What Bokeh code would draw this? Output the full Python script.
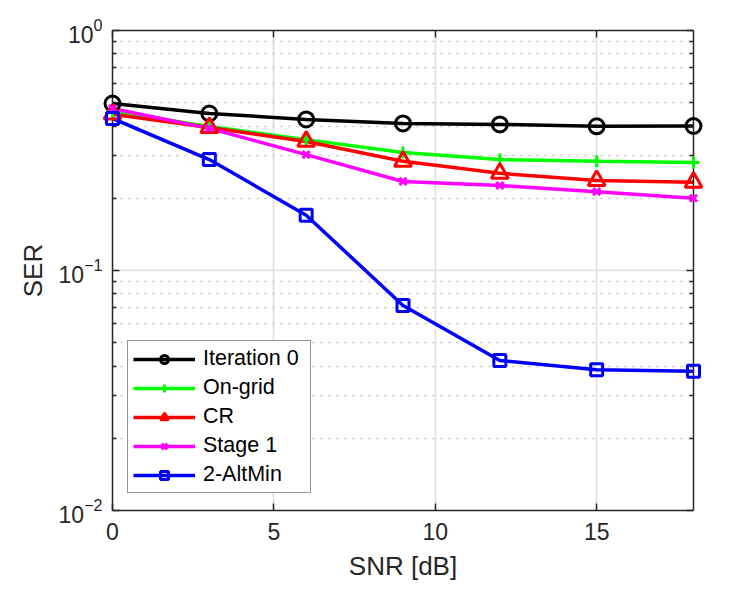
from bokeh.plotting import figure
from bokeh.models import FixedTicker, LinearAxis, LogAxis, Legend, LegendItem, LogTickFormatter
from bokeh.embed import file_html
from bokeh.resources import INLINE

# ---- data ----
snr = [0, 3, 6, 9, 12, 15, 18]
iter0 = [0.496, 0.451, 0.426, 0.410, 0.406, 0.399, 0.400]
ongrid = [0.460, 0.398, 0.351, 0.310, 0.290, 0.285, 0.282]
cr = [0.448, 0.394, 0.345, 0.285, 0.254, 0.237, 0.233]
stage1 = [0.473, 0.391, 0.304, 0.235, 0.226, 0.213, 0.200]
altmin = [0.430, 0.290, 0.170, 0.0715, 0.0422, 0.0386, 0.0380]

x_ticks = [0, 5, 10, 15]
y_ticks = [0.01, 0.1, 1]
y_minor = [k * 10.0 ** e for e in (-2, -1) for k in range(2, 10)]

FONT = "Liberation Sans"
AX = "#262626"

p = figure(frame_width=581, frame_height=480, x_range=(0, 18), y_range=(0.01, 1),
           y_axis_type="log", output_backend="svg", toolbar_location=None,
           min_border_left=112, min_border_top=30, min_border_right=57, min_border_bottom=90,
           x_axis_location=None, y_axis_location=None)
p.outline_line_color = None
p.background_fill_color = "white"

xt = FixedTicker(ticks=x_ticks, minor_ticks=[])
yt = FixedTicker(ticks=y_ticks, minor_ticks=y_minor)

def style(ax):
    ax.axis_line_color = AX
    ax.axis_line_width = 1.5
    ax.major_tick_line_color = AX
    ax.major_tick_line_width = 1.5
    ax.minor_tick_line_color = AX
    ax.minor_tick_line_width = 1.5
    ax.major_tick_in = 7
    ax.major_tick_out = 0
    ax.minor_tick_in = 4
    ax.minor_tick_out = 0
    ax.major_label_text_font = FONT
    ax.major_label_text_font_size = "23px"
    ax.major_label_text_color = AX
    ax.axis_label_text_font = FONT
    ax.axis_label_text_font_size = "26px"
    ax.axis_label_text_font_style = "normal"
    ax.axis_label_text_color = AX

xb = LinearAxis(ticker=xt, axis_label="SNR [dB]")
style(xb)
xb.major_label_standoff = 12
xb.axis_label_standoff = 8
p.add_layout(xb, "below")

xa = LinearAxis(ticker=xt, major_label_overrides={t: "" for t in x_ticks})
style(xa)
xa.major_label_text_font_size = "1px"
p.add_layout(xa, "above")

yl = LogAxis(ticker=yt, axis_label="SER", formatter=LogTickFormatter())
style(yl)
yl.major_label_standoff = 10
yl.axis_label_standoff = 8
p.add_layout(yl, "left")

yr = LogAxis(ticker=yt, major_label_overrides={t: "" for t in y_ticks})
style(yr)
yr.major_label_text_font_size = "1px"
p.add_layout(yr, "right")

p.xgrid.ticker = xt
p.xgrid.grid_line_color = "#dedede"
p.xgrid.grid_line_width = 1.5
p.ygrid.ticker = yt
p.ygrid.grid_line_color = "#dedede"
p.ygrid.grid_line_width = 1.5
p.ygrid.minor_grid_line_color = "#c4c4c4"
p.ygrid.minor_grid_line_width = 1.5
p.ygrid.minor_grid_line_dash = "2 6"

LW = 3.5
series = [
    ("Iteration 0", iter0, "#000000", "circle", 15),
    ("On-grid", ongrid, "#00ff00", "cross", 12),
    ("CR", cr, "#ff0000", "triangle", 17),
    ("Stage 1", stage1, "#ff00ff", "x", 10),
    ("2-AltMin", altmin, "#0000ff", "square", 12),
]
items = []
for name, ys, col, mk, sz in series:
    r1 = p.line(snr, ys, line_color=col, line_width=LW)
    r2 = p.scatter(snr, ys, marker=mk, size=sz, line_color=col, line_width=3,
                   fill_color=None, level="overlay")
    items.append(LegendItem(label=name, renderers=[r1, r2]))

leg = Legend(items=items, location=(15, 17))
leg.label_text_font = FONT
leg.label_text_font_size = "21.5px"
leg.label_text_color = "#000000"
leg.glyph_width = 62
leg.glyph_height = 20
leg.label_height = 20
leg.label_width = 102
leg.label_standoff = 8
leg.spacing = 4
leg.padding = 5
leg.margin = 0
leg.border_line_color = AX
leg.border_line_width = 1.5
leg.background_fill_color = "white"
leg.background_fill_alpha = 1
p.add_layout(leg)

open("out.html", "w").write(file_html(p, INLINE))
